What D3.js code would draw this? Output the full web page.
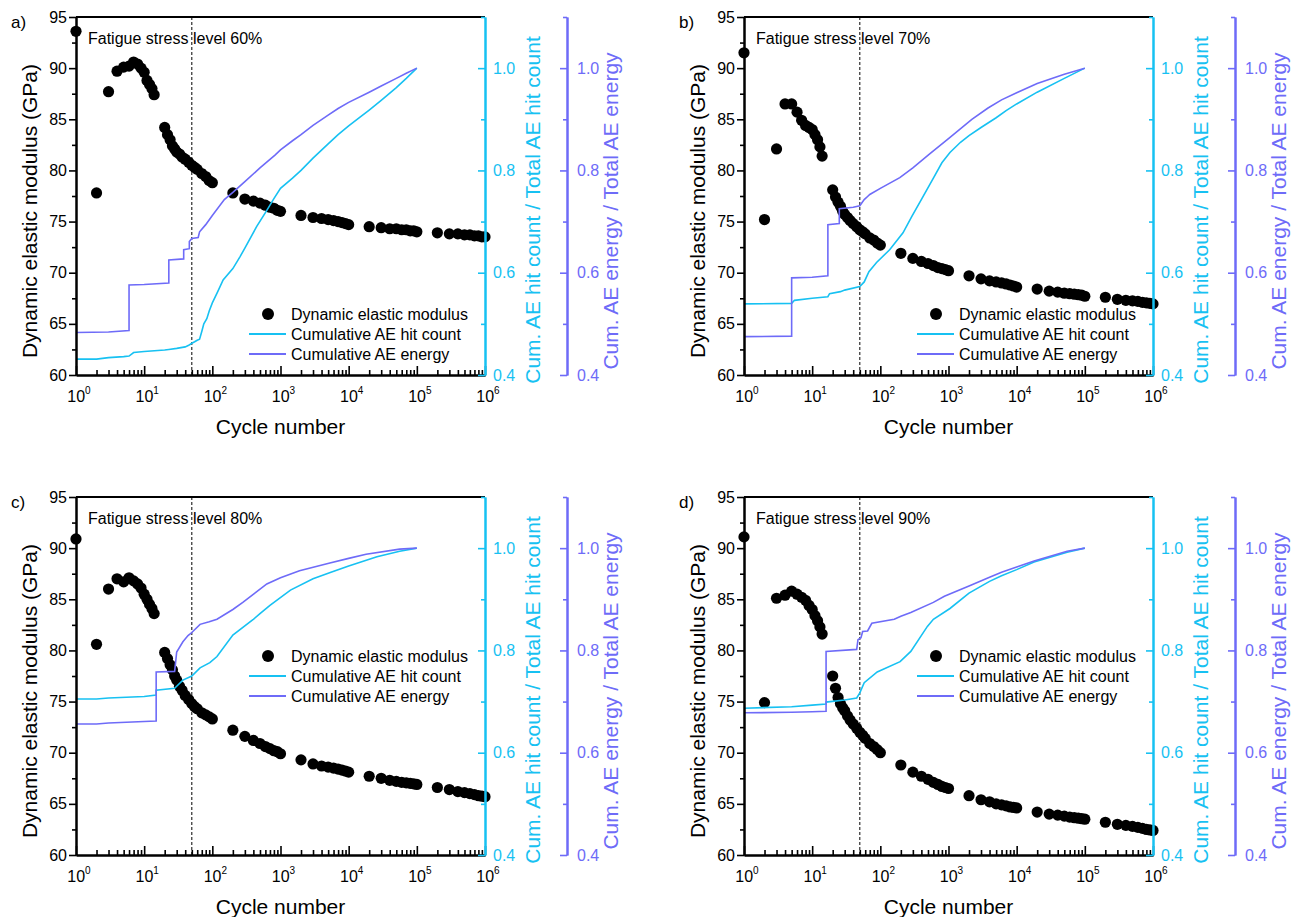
<!DOCTYPE html>
<html><head><meta charset="utf-8">
<script src="https://cdn.jsdelivr.net/npm/d3@7"></script>
<style>
body{margin:0;background:#fff}
svg{display:block}
text{font-family:"Liberation Sans",Arial,Helvetica,sans-serif}
</style>
</head><body>
<svg id="chart" width="1293" height="917"></svg>
<script>
// ---------------- DATA ----------------
const modCycles = [1,2,3,4,5,6,7,8,9,10,11,12,13,14,
  20,22,24,26,28,30,33,36,40,45,50,55,60,70,80,90,100,
  200,300,400,500,600,700,800,900,1000,
  2000,3000,4000,5000,6000,7000,8000,9000,10000,
  20000,30000,40000,50000,60000,70000,80000,90000,100000,
  200000,300000,400000,500000,600000,700000,800000,900000,1000000];

const modulusA = [93.6,77.8,87.7,89.7,90.1,90.2,90.6,90.4,90.0,89.6,88.8,88.4,88.0,87.4,
  84.2,83.5,83.0,82.4,82.1,81.8,81.6,81.3,81.1,80.8,80.5,80.3,80.1,79.7,79.4,79.0,78.8,
  77.8,77.2,77.0,76.8,76.6,76.4,76.3,76.1,76.0,
  75.6,75.4,75.3,75.2,75.1,75.0,74.9,74.8,74.7,
  74.5,74.4,74.3,74.3,74.2,74.2,74.1,74.1,74.0,
  73.9,73.8,73.8,73.7,73.7,73.6,73.6,73.5,73.5];
const modulusB = [91.5,75.2,82.1,86.5,86.5,85.7,84.9,84.4,84.2,84.0,83.5,83.0,82.3,81.4,
  78.1,77.4,76.9,76.5,76.0,75.7,75.4,75.1,74.8,74.5,74.2,74.0,73.8,73.4,73.2,72.9,72.7,
  71.9,71.4,71.1,70.9,70.7,70.5,70.4,70.3,70.2,
  69.7,69.4,69.2,69.1,69.0,68.9,68.8,68.7,68.6,
  68.4,68.2,68.1,68.0,67.95,67.9,67.85,67.8,67.7,
  67.6,67.4,67.3,67.25,67.2,67.1,67.05,67.0,66.95];
const modulusC = [90.9,80.6,86.0,87.0,86.7,87.1,86.8,86.5,86.1,85.5,85.0,84.5,84.1,83.6,
  79.8,79.2,78.6,78.1,77.5,77.1,76.5,76.1,75.6,75.2,74.8,74.5,74.3,73.9,73.7,73.5,73.3,
  72.2,71.6,71.2,70.9,70.6,70.4,70.2,70.1,69.9,
  69.3,68.9,68.7,68.6,68.5,68.4,68.3,68.2,68.1,
  67.7,67.5,67.3,67.2,67.1,67.05,67.0,66.95,66.9,
  66.6,66.4,66.2,66.1,66.0,65.9,65.8,65.75,65.7];
const modulusD = [91.1,74.9,85.1,85.4,85.8,85.5,85.2,84.9,84.4,84.0,83.4,82.9,82.3,81.6,
  77.5,76.3,75.4,74.8,74.4,74.1,73.6,73.2,72.8,72.4,72.0,71.7,71.4,70.9,70.6,70.3,70.0,
  68.8,68.1,67.7,67.4,67.1,66.9,66.7,66.6,66.5,
  65.8,65.4,65.2,65.0,64.9,64.8,64.7,64.65,64.6,
  64.2,64.0,63.9,63.8,63.7,63.65,63.6,63.55,63.5,
  63.2,63.0,62.9,62.8,62.7,62.6,62.5,62.45,62.4];

// cumulative AE curves: [cycle, normalized value]
const hitA = [[1,0.431],[2,0.431],[3,0.434],[5,0.436],[6,0.437],[7,0.444],[10,0.446],[20,0.449],[23,0.450],[30,0.452],[40,0.455],[45,0.458],[50,0.462],[55,0.465],[60,0.468],[65,0.470],[70,0.485],[75,0.500],[83,0.510],[90,0.525],[100,0.541],[120,0.563],[144,0.586],[200,0.608],[254,0.631],[300,0.648],[446,0.690],[630,0.722],[800,0.745],[1000,0.765],[1500,0.785],[2000,0.800],[3000,0.824],[5000,0.852],[7000,0.870],[10000,0.887],[15000,0.905],[20000,0.918],[30000,0.937],[50000,0.962],[70000,0.980],[100000,1.0]];
const energyA = [[1,0.483],[3,0.484],[6,0.487],[6,0.576],[10,0.577],[23,0.580],[23,0.625],[38,0.627],[38,0.645],[46,0.647],[46,0.661],[50,0.667],[62,0.669],[65,0.680],[80,0.694],[100,0.712],[150,0.743],[200,0.757],[300,0.778],[500,0.805],[830,0.830],[1000,0.840],[1500,0.858],[2000,0.870],[3000,0.888],[5000,0.908],[7000,0.921],[10000,0.933],[20000,0.953],[30000,0.965],[50000,0.980],[70000,0.990],[100000,1.0]];
const hitB = [[1,0.539],[5,0.540],[5.5,0.546],[10,0.550],[17,0.553],[18,0.559],[26,0.563],[30,0.566],[50,0.573],[58,0.582],[68,0.602],[88,0.620],[137,0.645],[215,0.678],[290,0.710],[407,0.745],[600,0.785],[800,0.815],[1050,0.835],[1500,0.855],[2000,0.868],[3000,0.884],[5000,0.903],[7000,0.917],[10000,0.930],[20000,0.953],[50000,0.980],[100000,1.0]];
const energyB = [[1,0.475],[5,0.476],[5,0.590],[10,0.591],[17,0.594],[17,0.694],[25,0.696],[25,0.725],[40,0.728],[50,0.731],[58,0.743],[65,0.749],[70,0.753],[100,0.765],[193,0.786],[300,0.805],[535,0.833],[1000,0.862],[2200,0.900],[3800,0.922],[6000,0.938],[10000,0.952],[20000,0.970],[50000,0.988],[100000,1.0]];
const hitC = [[1,0.705],[2,0.705],[3,0.707],[10,0.710],[15,0.713],[15,0.722],[28,0.726],[30,0.730],[37,0.742],[50,0.750],[66,0.766],[92,0.776],[117,0.788],[200,0.830],[394,0.860],[500,0.872],[700,0.888],[1400,0.918],[3000,0.940],[5500,0.953],[10000,0.965],[26000,0.983],[56000,0.994],[100000,1.0]];
const energyC = [[1,0.656],[2,0.656],[3,0.658],[10,0.661],[15,0.662],[15,0.758],[28,0.759],[30,0.797],[37,0.817],[44,0.829],[50,0.835],[66,0.851],[90,0.856],[117,0.861],[200,0.880],[280,0.894],[630,0.930],[1000,0.942],[1900,0.956],[5300,0.971],[10000,0.980],[18000,0.988],[56000,0.998],[100000,1.0]];
const hitD = [[1,0.687],[5,0.690],[10,0.693],[16,0.695],[16,0.699],[30,0.703],[45,0.707],[50,0.717],[58,0.737],[90,0.758],[195,0.778],[280,0.798],[490,0.847],[600,0.861],[1050,0.882],[2000,0.912],[4000,0.935],[6000,0.946],[10000,0.958],[18000,0.973],[55000,0.992],[100000,1.0]];
const energyD = [[1,0.678],[5,0.679],[10,0.680],[16,0.681],[16,0.798],[45,0.802],[47,0.821],[52,0.825],[55,0.837],[65,0.838],[75,0.853],[160,0.861],[200,0.867],[280,0.874],[600,0.894],[870,0.906],[2000,0.926],[4000,0.943],[6000,0.953],[10000,0.963],[18000,0.975],[55000,0.994],[100000,1.0]];

const panelLabels = ["a)","b)","c)","d)"];
const stressLabels = ["Fatigue stress level 60%","Fatigue stress level 70%","Fatigue stress level 80%","Fatigue stress level 90%"];
const legendLabels = ["Dynamic elastic modulus","Cumulative AE hit count","Cumulative AE energy"];
const xTickExps = [0,1,2,3,4,5,6];
const leftMajor = [60,65,70,75,80,85,90,95];
const leftMinor = [62.5,67.5,72.5,77.5,82.5,87.5,92.5];
const rightMajor = [0.4,0.6,0.8,1.0];
const rightMinor = [0.5,0.7,0.9,1.1];
const boundaryCycle = 50;
const xTitle = "Cycle number";
const yTitle = "Dynamic elastic modulus (GPa)";
const cyanTitle = "Cum. AE hit count / Total AE hit count";
const purpleTitle = "Cum. AE energy / Total AE energy";

// ---------------- LAYOUT ----------------
const CYAN = "#17C1F2", PURPLE = "#6E6BF8";
const W = 409, H = 358;
const panels = [
  {ox:76, oy:17, mod:modulusA, hit:hitA, en:energyA, legY:297},
  {ox:744, oy:17, mod:modulusB, hit:hitB, en:energyB, legY:297},
  {ox:76, oy:497, mod:modulusC, hit:hitC, en:energyC, legY:159},
  {ox:744, oy:497, mod:modulusD, hit:hitD, en:energyD, legY:159}
];

const svg = d3.select("#chart");
const x = d3.scaleLog().domain([1,1e6]).range([0,W]);
const y = d3.scaleLinear().domain([60,95]).range([H,0]);
const yr = d3.scaleLinear().domain([0.4,1.1]).range([H,0]);
const line = d3.line().x(d=>x(d[0])).y(d=>yr(d[1]));

const xMinor = [];
for (let e=0;e<6;e++) for (let k=2;k<=9;k++) xMinor.push(k*Math.pow(10,e));

function styleAxis(sel, color, fs){
  sel.select(".domain").attr("stroke", color).attr("stroke-width", 2);
  sel.selectAll(".tick line").attr("stroke", color).attr("stroke-width", 1.6);
  sel.selectAll(".tick text").attr("fill", color).attr("font-size", fs)
     .attr("font-family", '"Liberation Sans",Arial,sans-serif');
}

panels.forEach((p,i)=>{
  const g = svg.append("g").attr("transform",`translate(${p.ox},${p.oy})`);

  g.append("line").attr("x1",x(boundaryCycle)).attr("x2",x(boundaryCycle))
    .attr("y1",0).attr("y2",H).attr("stroke","#000").attr("stroke-width",1)
    .attr("stroke-dasharray","3,2");

  g.append("g").selectAll("circle").data(modCycles.map((c,j)=>[c,p.mod[j]]))
    .join("circle").attr("cx",d=>x(d[0])).attr("cy",d=>y(d[1])).attr("r",5.6).attr("fill","#000");

  g.append("path").datum(p.hit).attr("d",line).attr("fill","none").attr("stroke",CYAN).attr("stroke-width",1.6);
  g.append("path").datum(p.en).attr("d",line).attr("fill","none").attr("stroke",PURPLE).attr("stroke-width",1.6);

  const la = g.append("g").call(d3.axisLeft(y).tickValues(leftMajor).tickSize(7).tickSizeOuter(0).tickPadding(2).tickFormat(d3.format("d")));
  styleAxis(la,"#000",16);
  const lm = g.append("g").call(d3.axisLeft(y).tickValues(leftMinor).tickSize(4).tickSizeOuter(0).tickFormat(""));
  styleAxis(lm,"#000",16);

  g.append("line").attr("x1",0).attr("x2",W).attr("y1",0).attr("y2",0).attr("stroke","#000").attr("stroke-width",2);

  const ba = g.append("g").attr("transform",`translate(0,${H})`)
    .call(d3.axisTop(x).tickValues(xTickExps.map(e=>Math.pow(10,e))).tickSize(9).tickSizeOuter(0).tickFormat(""));
  styleAxis(ba,"#000",16);
  const bm = g.append("g").attr("transform",`translate(0,${H})`)
    .call(d3.axisTop(x).tickValues(xMinor).tickSize(5).tickSizeOuter(0).tickFormat(""));
  styleAxis(bm,"#000",16);
  const xl = g.append("g").selectAll("text").data(xTickExps).join("text")
    .attr("x",e=>x(Math.pow(10,e))+3).attr("y",H+27).attr("text-anchor","middle")
    .attr("font-size",16).attr("fill","#000");
  xl.append("tspan").text("10");
  xl.append("tspan").attr("dy",-8).attr("font-size",10).text(e=>e);

  const ca = g.append("g").attr("transform",`translate(${W},0)`)
    .call(d3.axisRight(yr).tickValues(rightMajor).tickSizeInner(-7).tickSizeOuter(0).tickPadding(8).tickFormat(d3.format(".1f")));
  styleAxis(ca,CYAN,16);
  const cm = g.append("g").attr("transform",`translate(${W},0)`)
    .call(d3.axisRight(yr).tickValues(rightMinor).tickSizeInner(-4).tickSizeOuter(0).tickFormat(""));
  styleAxis(cm,CYAN,16);

  const pa = g.append("g").attr("transform",`translate(${W+82},0)`)
    .call(d3.axisRight(yr).tickValues(rightMajor).tickSizeInner(-7).tickSizeOuter(0).tickPadding(10).tickFormat(d3.format(".1f")));
  styleAxis(pa,PURPLE,16);
  const pm = g.append("g").attr("transform",`translate(${W+82},0)`)
    .call(d3.axisRight(yr).tickValues(rightMinor).tickSizeInner(-4).tickSizeOuter(0).tickFormat(""));
  styleAxis(pm,PURPLE,16);

  g.append("text").attr("x",W/2).attr("y",H+59).attr("text-anchor","middle").attr("font-size",21).text(xTitle);
  g.append("text").attr("transform",`translate(-39,194) rotate(-90)`).attr("text-anchor","middle").attr("font-size",21).text(yTitle);
  g.append("text").attr("transform",`translate(${W+55},193) rotate(-90)`).attr("text-anchor","middle").attr("font-size",21).attr("fill",CYAN).text(cyanTitle);
  g.append("text").attr("transform",`translate(${W+82+51},194) rotate(-90)`).attr("text-anchor","middle").attr("font-size",21).attr("fill",PURPLE).text(purpleTitle);

  g.append("text").attr("x",-65).attr("y",11).attr("font-size",17)
    .attr("font-family",'"Liberation Serif","Times New Roman",serif').text(panelLabels[i]);
  g.append("text").attr("x",12).attr("y",27).attr("font-size",16).text(stressLabels[i]);

  const lg = g.append("g").attr("transform",`translate(0,${p.legY})`);
  lg.append("circle").attr("cx",192).attr("cy",0).attr("r",6).attr("fill","#000");
  lg.append("line").attr("x1",173).attr("x2",210).attr("y1",20).attr("y2",20).attr("stroke",CYAN).attr("stroke-width",2);
  lg.append("line").attr("x1",173).attr("x2",210).attr("y1",40).attr("y2",40).attr("stroke",PURPLE).attr("stroke-width",2);
  lg.selectAll("text.lt").data(legendLabels).join("text").attr("class","lt")
    .attr("x",215).attr("y",(d,k)=>k*20+6).attr("font-size",16).text(d=>d);
});
</script>
</body></html>
